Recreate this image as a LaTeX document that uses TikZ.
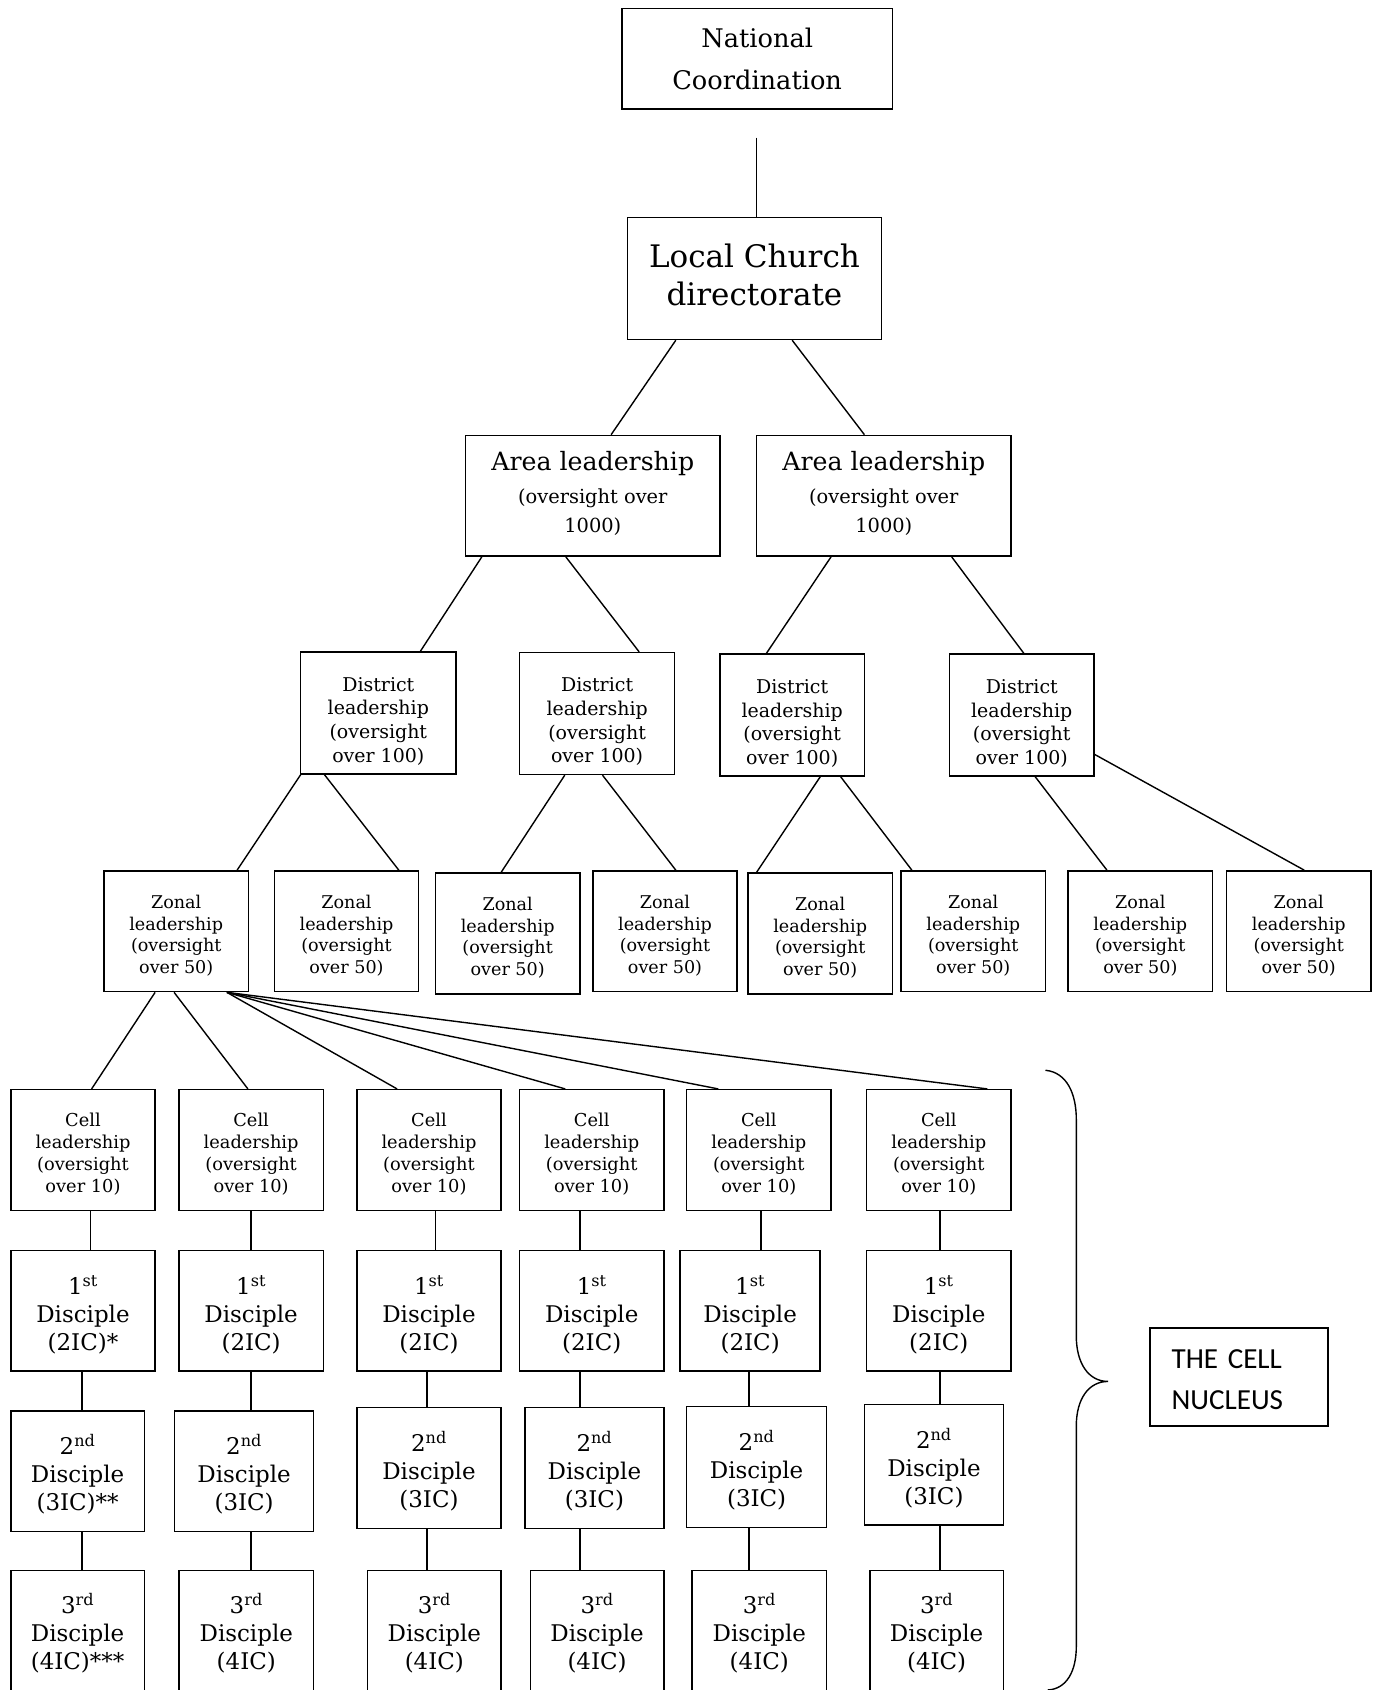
\documentclass[tikz,border=0pt]{standalone}
\usepackage{fontspec}
\setmainfont{DejaVu Serif}
\newfontfamily\nucleusfont{Carlito}
\newcommand{\topgap}[1]{\rule{0pt}{#1}}
\newcommand{\botgap}[1]{\rule[-#1]{0pt}{#1}}

\tikzset{
  box/.style={draw, line width=1.4pt, inner sep=0pt, align=center},
  link/.style={line width=1.3pt},
  district/.style={box, minimum width=134pt, minimum height=113pt, font=\fontsize{17.6}{22}\selectfont},
  zonal/.style={box, minimum width=134pt, minimum height=112pt, font=\fontsize{16.3}{20}\selectfont},
  cell/.style={box, minimum width=134pt, minimum height=112pt, font=\fontsize{16.5}{20.5}\selectfont},
  disc/.style={box, minimum height=112pt, font=\fontsize{21.3}{26}\selectfont},
}

\begin{document}
\begin{tikzpicture}[x=1pt,y=-1pt]
\useasboundingbox (0,0) rectangle (1277,1568);
% top of the tree
\node[box, minimum width=251pt, minimum height=93pt, font=\fontsize{23.8}{39}\selectfont] (nat) at (702.5,54.5) {National\\Coordination};
\node[box, minimum width=236pt, minimum height=113pt, font=\fontsize{28.8}{35}\selectfont] (lcd) at (700,258.5) {Local Church\\directorate\botgap{7pt}};
\node[box, minimum width=236pt, minimum height=112pt, font=\fontsize{18}{27}\selectfont] (area1) at (550,460) {{\fontsize{23.4}{27}\selectfont Area leadership}\\[3pt](oversight over\\1000)\botgap{7.4pt}};
\node[box, minimum width=236pt, minimum height=112pt, font=\fontsize{18}{27}\selectfont] (area2) at (820,460) {{\fontsize{23.4}{27}\selectfont Area leadership}\\[3pt](oversight over\\1000)\botgap{7.4pt}};
\node[district, minimum width=144pt] (dist1) at (351,661.5) {\topgap{28.4pt}District\\leadership\\(oversight\\over 100)};
\node[district, minimum width=144pt] (dist2) at (554,662) {\topgap{28.4pt}District\\leadership\\(oversight\\over 100)};
\node[district] (dist3) at (735,663.5) {\topgap{28.4pt}District\\leadership\\(oversight\\over 100)};
\node[district] (dist4) at (948,663.5) {\topgap{28.4pt}District\\leadership\\(oversight\\over 100)};
\foreach \n/\cx/\cy in {1/163.5/864, 2/321.5/864, 3/471/866, 4/617/864, 5/761/866, 6/903/864, 7/1058/864, 8/1205/864}
  \node[zonal] (z\n) at (\cx,\cy) {\topgap{20.4pt}Zonal\\leadership\\(oversight\\over 50)};

% the cells
\foreach \n/\cx in {1/77, 2/233, 3/398, 4/549, 5/704, 6/871}
  \node[cell] (cl\n) at (\cx,1067) {\topgap{20.5pt}Cell\\leadership\\(oversight\\over 10)};
\node[disc, minimum width=134pt] (fd1) at (77,1216) {\topgap{26pt}1\textsuperscript{st}\\Disciple\\(2IC)*};
\foreach \n/\cx/\w in {2/233/134, 3/398/134, 4/549/134, 5/696/130, 6/871/134}
  \node[disc, minimum width=\w pt] (fd\n) at (\cx,1216) {\topgap{26pt}1\textsuperscript{st}\\Disciple\\(2IC)};
\node[disc, minimum width=124pt] (sd1) at (72,1365) {\topgap{25pt}2\textsuperscript{nd}\\Disciple\\(3IC)**};
\foreach \n/\cx/\cy/\w in {2/226.5/1365/129, 3/398/1362/134, 4/551.5/1362/129, 5/702/1361/130, 6/866.5/1359/129}
  \node[disc, minimum width=\w pt] (sd\n) at (\cx,\cy) {\topgap{25pt}2\textsuperscript{nd}\\Disciple\\(3IC)};
\node[disc, minimum width=124pt, minimum height=113pt] (td1) at (72,1513.5) {\topgap{23pt}3\textsuperscript{rd}\\Disciple\\(4IC)***};
\foreach \n/\cx/\w in {2/228.5/125, 3/403/124, 4/554/124, 5/704.5/125, 6/869/124}
  \node[disc, minimum width=\w pt, minimum height=113pt] (td\n) at (\cx,1513.5) {\topgap{23pt}3\textsuperscript{rd}\\Disciple\\(4IC)};

\node[box, align=left, inner xsep=20pt, text width=125pt, minimum height=91pt, font=\nucleusfont\fontsize{27}{38}\selectfont] (nucleus) at (1149.5,1277.5) {\topgap{23.4pt}THE CELL\\NUCLEUS};

% connectors
\draw[link, shorten <=26pt] (nat.south -| 702,0) -- (lcd.north -| 702,0);
\draw[link] ([xshift=-73pt]lcd.south) -- ([xshift=17pt]area1.north);
\draw[link] ([xshift=35pt]lcd.south) -- ([xshift=-18pt]area2.north);
\draw[link] ([xshift=-103pt]area1.south) -- ([xshift=39pt]dist1.north);
\draw[link] ([xshift=-25pt]area1.south) -- ([xshift=39pt]dist2.north);
\draw[link] ([xshift=-49pt]area2.south) -- ([xshift=-24pt]dist3.north);
\draw[link] ([xshift=63pt]area2.south) -- ([xshift=2pt]dist4.north);
\draw[link] ([xshift=-72pt]dist1.south) -- ([xshift=56.5pt]z1.north);
\draw[link] ([xshift=-50pt]dist1.south) -- ([xshift=48.5pt]z2.north);
\draw[link] ([xshift=-30pt]dist2.south) -- ([xshift=-6pt]z3.north);
\draw[link] ([xshift=5pt]dist2.south) -- ([xshift=10pt]z4.north);
\draw[link] ([xshift=26pt]dist3.south) -- ([xshift=-59pt]z5.north);
\draw[link] ([xshift=45pt]dist3.south) -- ([xshift=-57pt]z6.north);
\draw[link] ([xshift=12.5pt]dist4.south) -- ([xshift=-31pt]z7.north);
\draw[link] ([yshift=-36.5pt]dist4.east) -- ([xshift=5pt]z8.north);
\draw[link] ([xshift=-19.6pt]z1.south) -- ([xshift=8pt]cl1.north);
\draw[link] ([xshift=-2pt]z1.south) -- ([xshift=-3pt]cl2.north);
\foreach \n/\dx in {3/-29.6, 4/-24.6, 5/-37.6, 6/45}
  \draw[link] ([xshift=47pt]z1.south) -- ([xshift=\dx pt]cl\n.north);
\foreach \n/\xa/\xb in {1/84/76, 2/233/233, 3/404/396, 4/538/538, 5/706/695, 6/872/872} {
  \draw[link] (cl\n.south -| \xa,0) -- (fd\n.north -| \xa,0);
  \draw[link] (fd\n.south -| \xb,0) -- (sd\n.north -| \xb,0);
  \draw[link] (sd\n.south -| \xb,0) -- (td\n.north -| \xb,0);
}

% brace round the cell nucleus
\draw[link] (970,993) .. controls (990,995) and (998.6,1015) .. (998.6,1038.6) -- (998.6,1239.6)
  .. controls (998.6,1265) and (1010,1281.7) .. (1028,1281.7)
  .. controls (1010,1281.7) and (998.6,1298) .. (998.6,1323) -- (998.6,1527.6)
  .. controls (998.6,1550) and (990,1567) .. (972,1568);
\end{tikzpicture}
\end{document}
